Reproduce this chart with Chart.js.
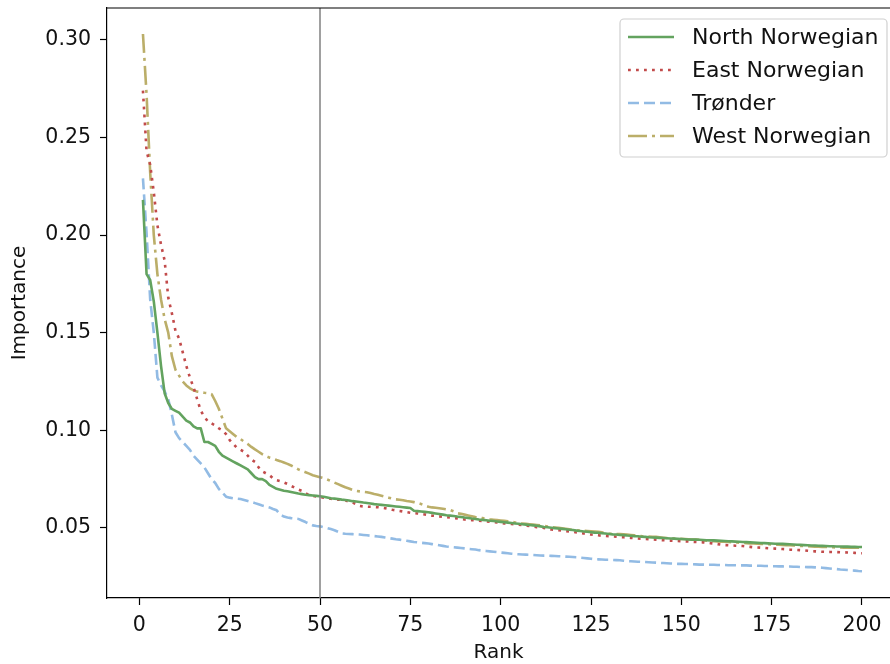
<!DOCTYPE html>
<html><head><meta charset="utf-8">
<script src="https://cdn.jsdelivr.net/npm/chart.js@4"></script>
<style>html,body{margin:0;padding:0;overflow:hidden;background:#fff}canvas{display:block}</style>
</head><body>
<canvas id="c" width="890" height="664"></canvas>
<script>
const seriesNames = ['North Norwegian', 'East Norwegian', 'Trønder', 'West Norwegian'];

const northNorwegian = [
0.218,0.180,0.177,0.166,0.150,0.133,0.119,0.114,0.111,0.110,
0.109,0.107,0.105,0.104,0.102,0.101,0.101,0.094,0.094,0.093,
0.092,0.089,0.087,0.086,0.085,0.084,0.083,0.082,0.081,0.080,
0.078,0.076,0.075,0.075,0.074,0.072,0.071,0.070,0.0695,0.069,
0.0688,0.0684,0.068,0.0676,0.0673,0.067,0.0668,0.0666,0.0664,0.0662,
0.066,0.0656,0.0652,0.065,0.0648,0.0645,0.0643,0.064,0.0637,0.0635,
0.0633,0.063,0.0628,0.0625,0.0622,0.062,0.0618,0.0616,0.0614,0.0612,
0.061,0.0608,0.0606,0.0604,0.0602,0.0588,0.0586,0.0584,0.0582,0.058,
0.0577,0.0574,0.0571,0.0568,0.0565,0.0563,0.0561,0.0558,0.0556,0.0553,
0.0551,0.0548,0.0546,0.0543,0.0541,0.0539,0.0537,0.0535,0.0533,0.0531,
0.0529,0.0527,0.0525,0.0523,0.0521,0.0519,0.0517,0.0515,0.0513,0.0511,
0.0508,0.0505,0.0503,0.0501,0.0499,0.0497,0.0495,0.0493,0.0491,0.0489,
0.0486,0.0484,0.0482,0.048,0.0478,0.0476,0.0475,0.0473,0.0471,0.0469,
0.0467,0.0466,0.0464,0.0463,0.0461,0.046,0.0458,0.0457,0.0455,0.0454,
0.0452,0.0451,0.045,0.0449,0.0448,0.0447,0.0446,0.0445,0.0444,0.0443,
0.0442,0.0441,0.044,0.044,0.0439,0.0438,0.0437,0.0436,0.0436,0.0435,
0.0434,0.0433,0.0432,0.0431,0.043,0.0429,0.0428,0.0427,0.0426,0.0425,
0.0424,0.0423,0.0422,0.0421,0.042,0.0419,0.0419,0.0418,0.0417,0.0416,
0.0415,0.0414,0.0413,0.0412,0.0411,0.041,0.041,0.0409,0.0408,0.0407,
0.0406,0.0406,0.0405,0.0405,0.0404,0.0404,0.0403,0.0403,0.0402,0.0402
];

const eastNorwegian = [
0.274,0.243,0.236,0.222,0.205,0.195,0.187,0.168,0.160,0.151,
0.147,0.140,0.133,0.127,0.122,0.116,0.110,0.107,0.1045,0.1035,
0.1025,0.101,0.100,0.098,0.095,0.093,0.091,0.090,0.089,0.087,
0.085,0.0838,0.081,0.079,0.078,0.077,0.0755,0.0745,0.074,0.0733,
0.0725,0.0715,0.0706,0.0697,0.069,0.0678,0.0667,0.0664,0.0661,0.0658,
0.0655,0.0652,0.0649,0.0647,0.0645,0.0643,0.0641,0.0635,0.063,0.0622,
0.0612,0.061,0.0609,0.0608,0.0607,0.0606,0.0604,0.0601,0.0597,0.0593,
0.059,0.0587,0.0584,0.0581,0.0578,0.0576,0.0574,0.0572,0.0569,0.0566,
0.0563,0.0561,0.0559,0.0557,0.0555,0.0553,0.0551,0.0549,0.0546,0.0543,
0.0541,0.054,0.0538,0.0537,0.0535,0.0534,0.0532,0.053,0.0528,0.0526,
0.0523,0.0521,0.052,0.0518,0.0516,0.0514,0.0512,0.051,0.0507,0.0504,
0.0502,0.05,0.0497,0.0492,0.049,0.0488,0.0486,0.0484,0.0482,0.048,
0.0477,0.0474,0.0471,0.0468,0.0466,0.0464,0.0462,0.046,0.0459,0.0458,
0.0456,0.0455,0.0453,0.0452,0.045,0.0449,0.0447,0.0446,0.0445,0.0443,
0.0442,0.0441,0.044,0.0438,0.0437,0.0436,0.0435,0.0434,0.0433,0.0432,
0.0431,0.043,0.0429,0.0428,0.0427,0.0426,0.0424,0.0422,0.042,0.0417,
0.0414,0.0412,0.0411,0.041,0.0409,0.0408,0.0407,0.0405,0.0403,0.0401,
0.04,0.0399,0.0398,0.0396,0.0395,0.0394,0.0393,0.0392,0.0391,0.0389,
0.0388,0.0387,0.0386,0.0385,0.0383,0.0381,0.038,0.0379,0.0378,0.0377,
0.0377,0.0376,0.0376,0.0375,0.0375,0.0374,0.0373,0.0372,0.0371,0.037
];

const trondelag = [
0.229,0.201,0.167,0.150,0.127,0.123,0.120,0.116,0.108,0.099,
0.096,0.094,0.092,0.090,0.087,0.085,0.083,0.081,0.078,0.075,
0.073,0.070,0.068,0.066,0.0655,0.0652,0.065,0.0648,0.0643,0.0638,
0.0633,0.0627,0.0621,0.0615,0.061,0.0605,0.0597,0.059,0.0568,0.0558,
0.0553,0.055,0.0548,0.0546,0.0538,0.053,0.0521,0.0513,0.051,0.0508,
0.0503,0.0499,0.0494,0.0488,0.048,0.0472,0.047,0.0469,0.0468,0.0467,
0.0466,0.0464,0.0462,0.046,0.0458,0.0456,0.0454,0.0451,0.0448,0.0445,
0.0442,0.044,0.0437,0.0434,0.0431,0.0428,0.0426,0.0424,0.0422,0.042,
0.0417,0.0414,0.0411,0.0408,0.0405,0.0403,0.0401,0.0399,0.0397,0.0395,
0.0393,0.0391,0.0389,0.0386,0.0384,0.0382,0.038,0.0378,0.0376,0.0374,
0.0372,0.037,0.0368,0.0366,0.0365,0.0364,0.0363,0.0362,0.0361,0.036,
0.0359,0.0358,0.0358,0.0357,0.0356,0.0355,0.0354,0.0353,0.0352,0.0351,
0.035,0.0348,0.0346,0.0344,0.0342,0.034,0.0339,0.0338,0.0337,0.0337,
0.0336,0.0335,0.0334,0.0332,0.033,0.0329,0.0328,0.0327,0.0326,0.0325,
0.0324,0.0323,0.0322,0.0321,0.032,0.0319,0.0318,0.0317,0.0316,0.0316,
0.0315,0.0315,0.0314,0.0313,0.0312,0.0312,0.0311,0.0311,0.0311,0.031,
0.031,0.031,0.0309,0.0309,0.0309,0.0308,0.0308,0.0308,0.0307,0.0307,
0.0306,0.0306,0.0305,0.0305,0.0304,0.0304,0.0303,0.0303,0.0302,0.0302,
0.0301,0.0301,0.03,0.03,0.0299,0.0299,0.0298,0.0297,0.0296,0.0294,
0.0292,0.029,0.0289,0.0287,0.0286,0.0284,0.0282,0.0281,0.0279,0.0278
];

const westNorwegian = [
0.303,0.272,0.232,0.200,0.180,0.167,0.157,0.150,0.138,0.131,
0.128,0.125,0.123,0.1215,0.1205,0.1198,0.1195,0.1192,0.119,0.1185,
0.115,0.111,0.106,0.101,0.0995,0.098,0.0965,0.0955,0.0942,0.093,
0.0915,0.0902,0.089,0.0878,0.0868,0.086,0.0855,0.0848,0.0842,0.0835,
0.0828,0.082,0.081,0.080,0.0792,0.0785,0.0778,0.077,0.0765,0.076,
0.0755,0.0748,0.074,0.0732,0.0724,0.0716,0.0708,0.0702,0.0695,0.069,
0.0687,0.0685,0.0683,0.0679,0.0674,0.067,0.0665,0.066,0.0655,0.065,
0.0646,0.0644,0.0642,0.0638,0.0635,0.0632,0.0628,0.0622,0.0615,0.0608,
0.0605,0.0603,0.0601,0.0598,0.0595,0.0592,0.0585,0.0575,0.0572,0.0568,
0.0564,0.056,0.0556,0.0553,0.055,0.0547,0.0544,0.0542,0.054,0.0538,
0.0536,0.0534,0.0531,0.0528,0.0525,0.0523,0.0521,0.0519,0.0517,0.0515,
0.0513,0.051,0.0507,0.0504,0.0502,0.05,0.0498,0.0496,0.0493,0.049,
0.0488,0.0486,0.0485,0.0484,0.0483,0.0482,0.048,0.0477,0.0474,0.0471,
0.047,0.0469,0.0468,0.0467,0.0466,0.0464,0.0462,0.046,0.0458,0.0457,
0.0456,0.0455,0.0454,0.0452,0.045,0.0448,0.0447,0.0446,0.0445,0.0444,
0.0443,0.0442,0.0441,0.044,0.0439,0.0437,0.0435,0.0433,0.0432,0.0431,
0.043,0.0429,0.0428,0.0427,0.0426,0.0424,0.0423,0.0422,0.0421,0.042,
0.0419,0.0418,0.0417,0.0416,0.0415,0.0414,0.0414,0.0413,0.0412,0.0411,
0.041,0.0409,0.0408,0.0407,0.0406,0.0405,0.0404,0.0404,0.0403,0.0402,
0.0402,0.0401,0.04,0.04,0.0399,0.0399,0.0398,0.0398,0.0398,0.0398
];

const xTicks = [0, 25, 50, 75, 100, 125, 150, 175, 200];
const yTicks = [0.05, 0.10, 0.15, 0.20, 0.25, 0.30];
const markerRank = 50;
const ranks = northNorwegian.map((_, i) => i + 1);

const FONT = "'DejaVu Sans', 'Liberation Sans', sans-serif";
const toPoints = vals => vals.map((v, i) => ({ x: ranks[i], y: v }));

const styles = [
  { color: '#63A35F', dash: [] },
  { color: '#C24B4B', dash: [2.8, 5.2] },
  { color: '#92BBE4', dash: [11, 5] },
  { color: '#BBAE69', dash: [19, 5, 3, 5] }
];
const allSeries = [northNorwegian, eastNorwegian, trondelag, westNorwegian];

const datasets = allSeries.map((vals, k) => ({
  label: seriesNames[k],
  data: toPoints(vals),
  borderColor: styles[k].color,
  borderDash: styles[k].dash,
  borderWidth: 2.6,
  borderCapStyle: 'butt',
  borderJoinStyle: 'round',
  pointRadius: 0,
  tension: 0,
  fill: false
}));

const noPad = s => { s.paddingTop = 0; s.paddingBottom = 0; s.paddingLeft = 0; s.paddingRight = 0; };

const decorPlugin = {
  id: 'decor',
  afterDatasetsDraw(chart) {
    const { ctx, chartArea: a, scales: { x } } = chart;
    const vx = x.getPixelForValue(markerRank);
    ctx.save();
    ctx.strokeStyle = '#808080';
    ctx.lineWidth = 1.5;
    ctx.beginPath();
    ctx.moveTo(vx, a.top);
    ctx.lineTo(vx, a.bottom);
    ctx.stroke();
    ctx.restore();
  },
  afterDraw(chart) {
    const { ctx, chartArea: a } = chart;
    ctx.save();
    // keep the cropped right edge clean (the right spine lies outside the picture)
    ctx.fillStyle = '#fff';
    ctx.fillRect(a.right - 2, a.top + 1, 2, a.bottom - a.top - 2);

    ctx.strokeStyle = '#000';
    ctx.lineWidth = 1.2;
    ctx.beginPath();
    ctx.moveTo(a.left, a.top);
    ctx.lineTo(a.right, a.top);
    ctx.stroke();

    const bw = 267, bh = 138;
    const bx = a.right - 3 - bw, by = a.top + 11;
    ctx.fillStyle = 'rgba(255,255,255,0.8)';
    ctx.strokeStyle = '#d0d0d0';
    ctx.lineWidth = 1.2;
    ctx.beginPath();
    if (ctx.roundRect) ctx.roundRect(bx, by, bw, bh, 4); else ctx.rect(bx, by, bw, bh);
    ctx.fill();
    ctx.stroke();
    ctx.font = `22px ${FONT}`;
    ctx.textBaseline = 'middle';
    ctx.textAlign = 'left';
    chart.data.datasets.forEach((ds, i) => {
      const cy = by + 18 + i * 33;
      ctx.strokeStyle = ds.borderColor;
      ctx.lineWidth = ds.borderWidth;
      ctx.lineCap = 'butt';
      ctx.setLineDash(ds.borderDash || []);
      ctx.beginPath();
      ctx.moveTo(bx + 8, cy);
      ctx.lineTo(bx + 54, cy);
      ctx.stroke();
      ctx.setLineDash([]);
      ctx.fillStyle = '#111';
      ctx.fillText(ds.label, bx + 72, cy + 1);
    });
    ctx.restore();
  }
};

new Chart(document.getElementById('c').getContext('2d'), {
  type: 'line',
  data: { datasets },
  options: {
    responsive: false,
    animation: false,
    devicePixelRatio: 1,
    layout: { padding: { top: 8, right: 0, left: 0, bottom: 0 } },
    plugins: { legend: { display: false }, tooltip: { enabled: false } },
    scales: {
      x: {
        type: 'linear',
        min: -8.95, max: 207.75,
        afterBuildTicks: s => { s.ticks = xTicks.map(v => ({ value: v })); },
        afterFit: s => { s.height = 66; noPad(s); },
        grid: { drawOnChartArea: false, drawTicks: true, tickLength: 7, tickColor: '#000', tickWidth: 1.2 },
        border: { display: true, color: '#000', width: 1.2 },
        ticks: { font: { family: FONT, size: 20.5 }, color: '#111', padding: 8, maxRotation: 0, autoSkip: false, callback: v => String(v) },
        title: { display: true, text: 'Rank', font: { family: FONT, size: 20 }, color: '#111', padding: { top: 0, bottom: -1 } }
      },
      y: {
        type: 'linear',
        min: 0.0141, max: 0.3163,
        afterBuildTicks: s => { s.ticks = yTicks.map(v => ({ value: v })); },
        afterFit: s => { s.width = 107; noPad(s); },
        grid: { drawOnChartArea: false, drawTicks: true, tickLength: 7, tickColor: '#000', tickWidth: 1.2 },
        border: { display: true, color: '#000', width: 1.2 },
        ticks: { font: { family: FONT, size: 20.5 }, color: '#111', padding: 9, autoSkip: false, callback: v => v.toFixed(2) },
        title: { display: true, text: 'Importance', font: { family: FONT, size: 20 }, color: '#111', padding: { top: 8, bottom: 0 } }
      }
    }
  },
  plugins: [decorPlugin]
});
</script>
</body></html>
